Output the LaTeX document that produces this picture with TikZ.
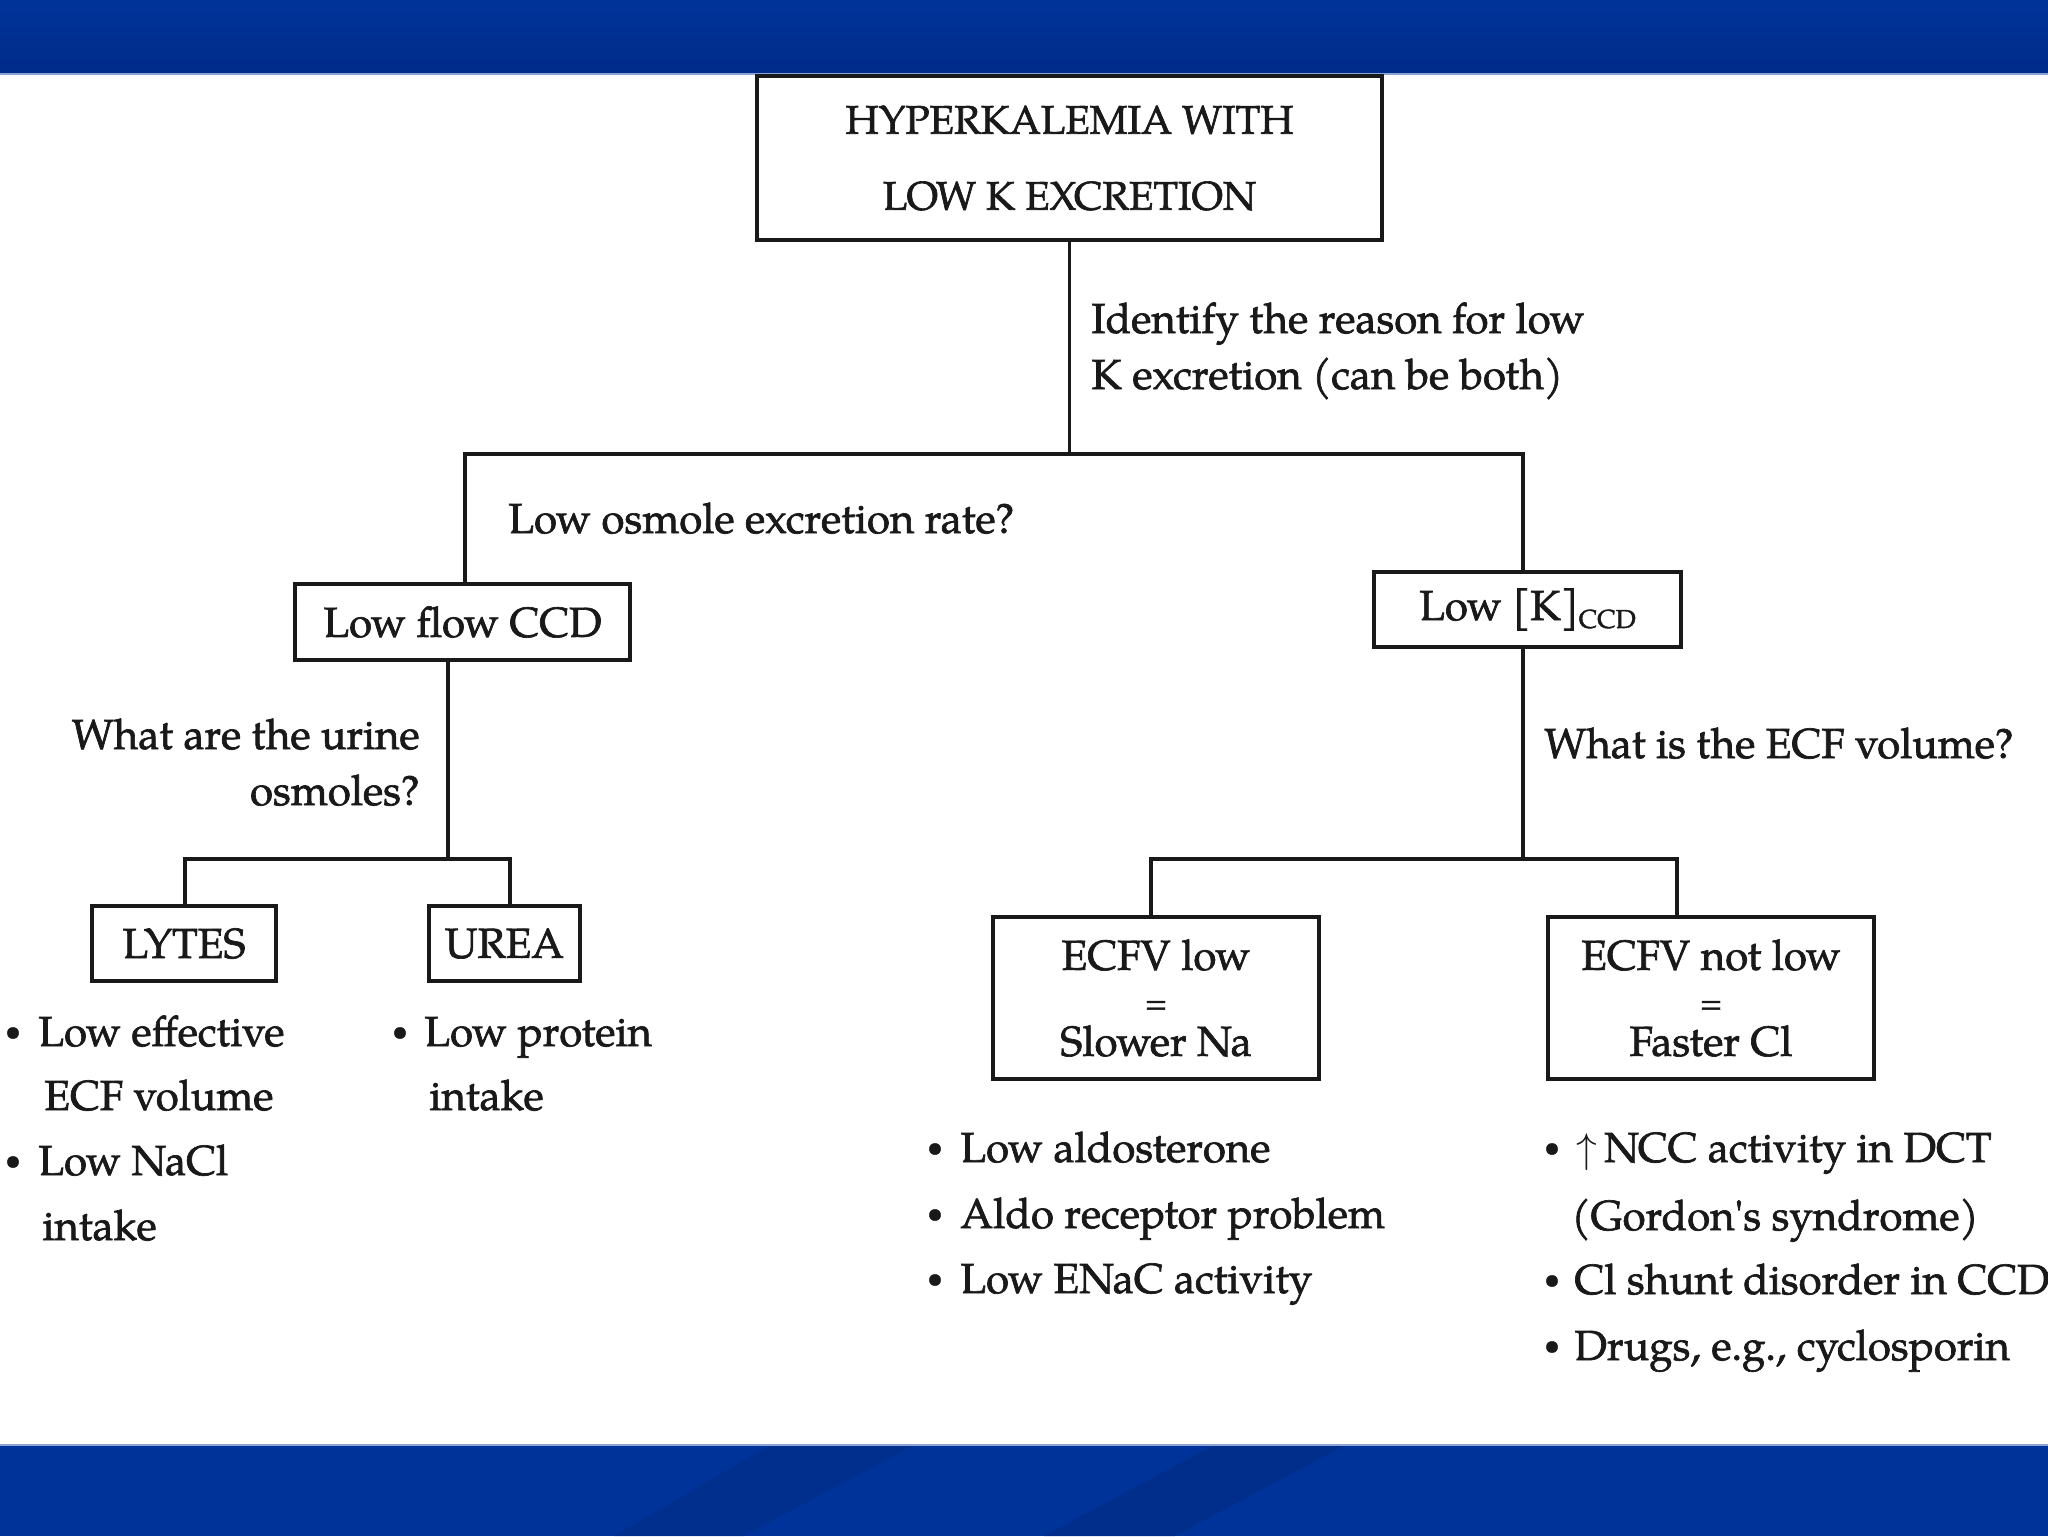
\documentclass[tikz,border=0pt]{standalone}
\usepackage{fontspec}
\setmainfont{TeX Gyre Pagella}[FakeBold=1.6]
\definecolor{barblue}{RGB}{0,51,153}
\definecolor{bardark}{RGB}{0,44,138}
\definecolor{barstripe}{RGB}{0,45,135}
\definecolor{barlight}{RGB}{140,165,215}
\definecolor{ink}{RGB}{25,25,25}
\newcommand\dfont{\fontsize{21}{25}\selectfont}
\newcommand\straightq{{\addfontfeatures{Ligatures=TeXOff}'}}
\begin{document}
\begin{tikzpicture}[x=0.5pt,y=-0.5pt,
  box/.style={draw=ink, line width=2pt, fill=white, inner sep=0pt, align=center, font=\dfont, text=ink},
  conn/.style={draw=ink, line width=1.6pt},
  txt/.style={inner sep=0pt, font=\dfont, text=ink},
  lbl/.style={txt, anchor=base west},
  dot/.style={inner sep=0pt, text=ink, font=\fontsize{14}{14}\selectfont, anchor=base}]
\useasboundingbox (0,0) rectangle (2048,1536);
\fill[white] (0,0) rectangle (2048,1536);
% top bar
\shade[top color=barblue, bottom color=bardark] (0,0) rectangle (2048,74);
\draw[barlight, line width=0.8pt] (0,74) -- (2048,74);
% bottom bar
\fill[barblue] (0,1445) rectangle (2048,1536);
\fill[barstripe, opacity=0.6] (614,1536) -- (744,1536) -- (914,1445) -- (770,1445) -- cycle;
\fill[barstripe, opacity=0.8] (1044,1536) -- (1175,1536) -- (1345,1445) -- (1214,1445) -- cycle;
\draw[barlight, line width=0.8pt] (0,1445) -- (2048,1445);

% boxes
\node[box, minimum width=312.5pt, minimum height=82pt, font=\fontsize{20}{38}\selectfont] (top) at (1069.5,158) {HYPERKALEMIA WITH\\LOW K EXCRETION};
\node[box, minimum width=167.5pt, minimum height=38pt] (lowflow) at (462.5,622) {Low flow CCD};
\node[box, minimum width=153.5pt, minimum height=37.5pt] (lowk) at (1527.5,609.5) {Low [K]\raisebox{-4pt}{\fontsize{13}{13}\selectfont CCD}};
\node[box, minimum width=92pt, minimum height=37.5pt] (lytes) at (184,943.5) {LYTES};
\node[box, minimum width=75.5pt, minimum height=37.5pt] (urea) at (504.5,943.5) {UREA};
\node[box, minimum width=163pt, minimum height=81pt, font=\fontsize{21}{21.5}\selectfont] (ecfvlow) at (1156,998) {ECFV low\\{\fontsize{15}{15}\selectfont =}\\Slower Na};
\node[box, minimum width=163pt, minimum height=81pt, font=\fontsize{21}{21.5}\selectfont] (ecfvnot) at (1711,998) {ECFV not low\\{\fontsize{15}{15}\selectfont =}\\Faster Cl};

% junctions
\coordinate (jL) at (465,454);
\coordinate (jR) at (1523,454);
\coordinate (jLL) at (185,859);
\coordinate (jLR) at (510,859);
\coordinate (jRL) at (1151,859);
\coordinate (jRR) at (1677,859);
\coordinate (jLm) at (448,859);

% connectors
\draw[conn] (top.south) -- (top.south |- jL);
\draw[conn] (lowflow.north -| jL) -- (jL) -- (jR) -- (lowk.north -| jR);
\draw[conn] (lowflow.south -| jLm) -- (jLm);
\draw[conn] (lytes.north -| jLL) -- (jLL) -- (jLR) -- (urea.north -| jLR);
\draw[conn] (lowk.south -| jR) -- (jR |- jRL);
\draw[conn] (ecfvlow.north -| jRL) -- (jRL) -- (jRR) -- (ecfvnot.north -| jRR);

% question labels
\node[lbl] (q1a) at (1091,333) {Identify the reason for low};
\node[lbl] (q1b) at (1091,389) {K excretion (can be both)};
\node[lbl] (q2) at (508,533) {Low osmole excretion rate?};
\node[txt, anchor=base east] (q3a) at (420,749) {What are the urine};
\node[txt, anchor=base east] (q3b) at (420,805) {osmoles?};
\node[lbl] (q4) at (1544,758) {What is the ECF volume?};

% lytes bullets
\node[dot] (d1) at (13,1040) {•};
\node[lbl] (t1a) at (38,1046) {Low effective};
\node[lbl] (t1b) at (44,1110) {ECF volume};
\node[dot] (d2) at (13,1169) {•};
\node[lbl] (t2a) at (38,1175) {Low NaCl};
\node[lbl] (t2b) at (42,1240) {intake};
% urea bullets
\node[dot] (d3) at (400,1040) {•};
\node[lbl] (t3a) at (424,1046) {Low protein};
\node[lbl] (t3b) at (429,1110) {intake};
% ecfv low bullets
\node[dot] (d4) at (935,1156) {•};
\node[lbl] (t4) at (960,1162) {Low aldosterone};
\node[dot] (d5) at (935,1222) {•};
\node[lbl] (t5) at (960,1228) {Aldo receptor problem};
\node[dot] (d6) at (935,1287) {•};
\node[lbl] (t6) at (960,1293) {Low ENaC activity};
% ecfv not low bullets
\node[dot] (d7) at (1552,1156) {•};
\node[lbl] (t7a) at (1576,1162) {$\uparrow$\,NCC activity in DCT};
\node[lbl] (t7b) at (1571,1230) {(Gordon\straightq s syndrome)};
\node[dot] (d8) at (1552,1288) {•};
\node[lbl] (t8) at (1574,1294) {Cl shunt disorder in CCD};
\node[dot] (d9) at (1552,1354) {•};
\node[lbl] (t9) at (1574,1360) {Drugs, e.g., cyclosporin};
\end{tikzpicture}
\end{document}
